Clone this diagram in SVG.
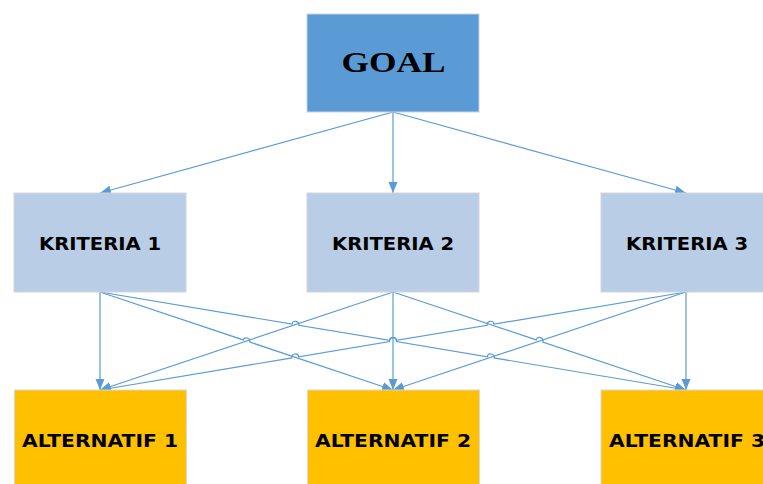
<svg xmlns="http://www.w3.org/2000/svg" width="763" height="484" viewBox="0 0 763 484">
<style>
.goal{fill:#5B9BD5;stroke:#c9d3de;stroke-width:1}
.krit{fill:#B9CDE6;stroke:#d2d6dc;stroke-width:1}
.alt{fill:#FFC000;stroke:#d8d8d8;stroke-width:1}
.lbl{font-family:"DejaVu Sans","Liberation Sans",sans-serif;font-weight:bold;font-size:18px;fill:#000;text-anchor:middle}
.gl{font-family:"Liberation Serif","Times New Roman",serif;font-weight:bold;font-size:28.5px;fill:#000;text-anchor:middle}
.c{fill:none;stroke:#5B9BD5;stroke-width:1.2;marker-end:url(#ah)}
</style>
<defs>
<marker id="ah" markerUnits="userSpaceOnUse" markerWidth="12" markerHeight="12" viewBox="0 0 12 12" refX="11" refY="6" orient="auto">
<path d="M0,1.5 L11,6 L0,10.5 Z" fill="#5B9BD5"/>
</marker>
</defs>
<rect width="763" height="484" fill="#ffffff"/>
<g id="connectors">
<path class="c" d="M393,112 L100,193"/>
<path class="c" d="M393,112 L393,193"/>
<path class="c" d="M393,112 L686,193"/>
<path class="c" d="M100,292 L100,390"/>
<path class="c" d="M393,292 L393,390"/>
<path class="c" d="M686,292 L686,390"/>
<path class="c" d="M100,292 L243.2,339.9 A3.5,3.5 0 0 1 249.8,342.1 L393,390"/>
<path class="c" d="M100,292 L291.95,324.1 A3.5,3.5 0 0 1 298.85,325.26 L389.55,340.42 A3.5,3.5 0 0 1 396.45,341.58 L487.25,356.76 A3.5,3.5 0 0 1 494.15,357.92 L686,390"/>
<path class="c" d="M393,292 L100,390"/>
<path class="c" d="M393,292 L536.18,339.89 A3.5,3.5 0 0 1 542.82,342.11 L686,390"/>
<path class="c" d="M686,292 L494.05,324.1 A3.5,3.5 0 0 0 487.15,325.26 L396.45,340.42 A3.5,3.5 0 0 0 389.55,341.58 L298.75,356.76 A3.5,3.5 0 0 0 291.85,357.92 L100,390"/>
<path class="c" d="M686,292 L393,390"/>
</g>
<g id="goal">
<rect class="goal" x="307" y="14" width="172" height="98"/>
<text class="gl" x="393.5" y="72" textLength="104" lengthAdjust="spacingAndGlyphs">GOAL</text>
</g>
<g id="kriteria1">
<rect class="krit" x="14" y="193" width="172" height="99"/>
<text class="lbl" x="100" y="250" textLength="122" lengthAdjust="spacingAndGlyphs">KRITERIA 1</text>
</g>
<g id="kriteria2">
<rect class="krit" x="307" y="193" width="172" height="99"/>
<text class="lbl" x="393" y="250" textLength="122" lengthAdjust="spacingAndGlyphs">KRITERIA 2</text>
</g>
<g id="kriteria3">
<rect class="krit" x="601" y="193" width="172" height="99"/>
<text class="lbl" x="687" y="250" textLength="122" lengthAdjust="spacingAndGlyphs">KRITERIA 3</text>
</g>
<g id="alternatif1">
<rect class="alt" x="14.5" y="390" width="172" height="100"/>
<text class="lbl" x="100" y="446.5" textLength="156" lengthAdjust="spacingAndGlyphs">ALTERNATIF 1</text>
</g>
<g id="alternatif2">
<rect class="alt" x="307.5" y="390" width="172" height="100"/>
<text class="lbl" x="393" y="446.5" textLength="156" lengthAdjust="spacingAndGlyphs">ALTERNATIF 2</text>
</g>
<g id="alternatif3">
<rect class="alt" x="601" y="390" width="172" height="100"/>
<text class="lbl" x="687" y="446.5" textLength="156" lengthAdjust="spacingAndGlyphs">ALTERNATIF 3</text>
</g>
</svg>
